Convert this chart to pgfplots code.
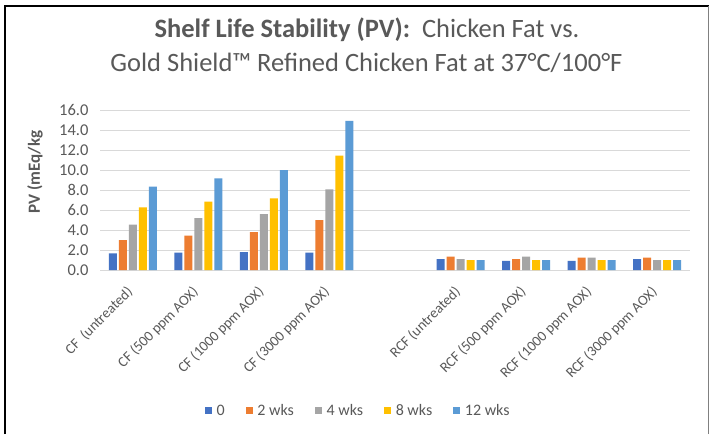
\documentclass[border=0pt]{standalone}
\usepackage{fontspec}
\setmainfont{Carlito}
\usepackage{pgfplots}
\pgfplotsset{compat=1.18}
\definecolor{c0}{HTML}{4472C4}
\definecolor{c1}{HTML}{ED7D31}
\definecolor{c2}{HTML}{A5A5A5}
\definecolor{c3}{HTML}{FFC000}
\definecolor{c4}{HTML}{5B9BD5}
\definecolor{txt}{HTML}{595959}
\definecolor{gridc}{HTML}{D9D9D9}
\begin{document}
\begin{tikzpicture}[x=1pt,y=1pt]
\path[use as bounding box] (0,0) rectangle (711,434);
\fill[white] (0,0) rectangle (711,434);
\draw[black, line width=2.5pt] (5,0) -- (5,428) -- (709,428);
\draw[gray, line width=1pt] (708.5,0) -- (708.5,428);
\node[txt, anchor=base, font=\fontsize{26.5}{30}\selectfont] at (367,396) {\textbf{Shelf Life Stability (PV):}\ \ Chicken Fat vs.};
\node[txt, anchor=base, font=\fontsize{26.5}{30}\selectfont] at (366.5,362) {Gold Shield™ Refined Chicken Fat at 37°C/100°F};
\node[txt, rotate=90, font=\fontsize{17}{20}\selectfont\bfseries] at (35,262) {PV (mEq/kg};
\begin{axis}[
  at={(100pt,164pt)}, anchor=south west,
  width=590pt, height=160pt, scale only axis,
  xmin=0, xmax=9, ymin=0, ymax=16,
  ybar=2pt, bar width=8pt,
  axis x line=bottom, axis y line=left,
  y axis line style={draw=none},
  x axis line style={draw=gridc, line width=0.8pt, -},
  major tick length=0pt,
  ymajorgrids, grid style={draw=gridc, line width=0.8pt},
  ytick={0,2,...,16},
  /pgf/number format/assume math mode=true,
  yticklabel style={txt, font=\fontsize{16.5}{19}\selectfont, xshift=-8pt,
    /pgf/number format/fixed, /pgf/number format/fixed zerofill, /pgf/number format/precision=1},
  xtick={0.5,1.5,2.5,3.5,5.5,6.5,7.5,8.5},
  xticklabels={CF\ \ (untreated), CF (500 ppm AOX), CF (1000 ppm AOX), CF (3000 ppm AOX), RCF (untreated), RCF (500 ppm AOX), RCF (1000 ppm AOX), RCF (3000 ppm AOX)},
  xticklabel style={txt, font=\fontsize{14.5}{17}\selectfont, xshift=-7pt, anchor=north east, inner sep=0pt, rotate=45},
  xticklabel shift=15pt,
  legend columns=5,
  legend style={at={(0.437,-0.881)}, anchor=center, draw=none, fill=none,
    font=\fontsize{16}{19}\selectfont, text=txt,
    /tikz/every even column/.append style={column sep=20pt},
    nodes={inner sep=1pt}},
  legend image code/.code={\fill[#1, draw=none] (0pt,-3.5pt) rectangle (7pt,3.5pt);},
  every axis plot/.append style={draw=none},
  clip=false,
]
\addplot[fill=c0] coordinates {(0.5,1.67) (1.5,1.73) (2.5,1.8) (3.5,1.73) (5.5,1.08) (6.5,0.92) (7.5,0.92) (8.5,1.08)};
\addplot[fill=c1] coordinates {(0.5,3.0) (1.5,3.43) (2.5,3.8) (3.5,5.0) (5.5,1.35) (6.5,1.08) (7.5,1.25) (8.5,1.25)};
\addplot[fill=c2] coordinates {(0.5,4.53) (1.5,5.2) (2.5,5.6) (3.5,8.07) (5.5,1.08) (6.5,1.33) (7.5,1.25) (8.5,0.98)};
\addplot[fill=c3] coordinates {(0.5,6.27) (1.5,6.85) (2.5,7.17) (3.5,11.45) (5.5,0.98) (6.5,0.98) (7.5,0.98) (8.5,0.98)};
\addplot[fill=c4] coordinates {(0.5,8.33) (1.5,9.17) (2.5,10.0) (3.5,14.9) (5.5,0.98) (6.5,0.98) (7.5,0.98) (8.5,0.98)};
\legend{\ 0, \ 2 wks, \ 4 wks, \ 8 wks, \ 12 wks}
\end{axis}
\end{tikzpicture}
\end{document}
